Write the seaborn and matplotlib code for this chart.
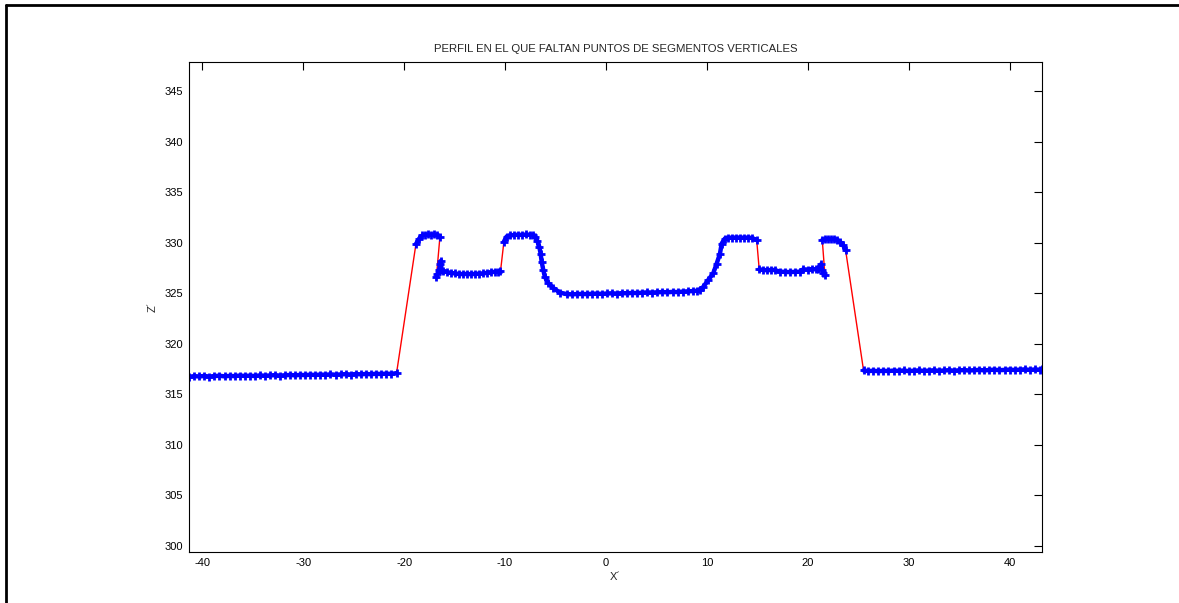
import matplotlib
matplotlib.use("Agg")
import matplotlib.pyplot as plt
from matplotlib.lines import Line2D
import seaborn as sns
import pandas as pd

# ---- data ----
x1 = [-41.3, -40.8, -40.3, -39.8, -39.3, -38.8, -38.3, -37.8, -37.3, -36.8,
      -36.3, -35.8, -35.3, -34.8, -34.3, -33.8, -33.3, -32.8, -32.3, -31.8,
      -31.3, -30.8, -30.3, -29.8, -29.3, -28.8, -28.3, -27.8, -27.3, -26.8,
      -26.3, -25.8, -25.3, -24.8, -24.3, -23.8, -23.3, -22.8, -22.3, -21.8,
      -21.3, -20.75]
z1 = [316.72, 316.78, 316.75, 316.80, 316.74, 316.79, 316.82, 316.76, 316.81, 316.78,
      316.84, 316.80, 316.83, 316.79, 316.86, 316.82, 316.85, 316.88, 316.83, 316.87,
      316.90, 316.86, 316.91, 316.88, 316.93, 316.89, 316.94, 316.91, 316.96, 316.92,
      316.95, 316.98, 316.94, 316.99, 316.96, 317.00, 316.97, 317.02, 316.99, 317.03,
      317.00, 317.08]

x2 = [-18.83, -18.5, -18.2, -17.9, -17.6, -17.3, -17.0, -16.7, -16.45]
z2 = [329.85, 330.4, 330.7, 330.78, 330.8, 330.78, 330.8, 330.75, 330.6]

x3 = [-16.8, -16.7, -16.55, -16.4, -16.35, -16.3, -16.1, -15.8, -15.4, -15.0,
      -14.6, -14.2, -13.8, -13.4, -13.0, -12.6, -12.2, -11.8, -11.4, -11.0,
      -10.7, -10.45]
z3 = [326.6, 326.9, 327.3, 327.9, 328.2, 327.3, 327.2, 327.1, 327.0, 326.95,
      326.9, 326.88, 326.9, 326.87, 326.9, 326.92, 326.95, 327.0, 327.08, 327.1,
      327.12, 327.15]

x4 = [-10.11, -9.84, -9.5, -9.1, -8.7, -8.3, -7.9, -7.5, -7.2, -7.0,
      -6.81, -6.61, -6.47, -6.37, -6.21, -6.05, -5.72, -5.22, -4.56, -3.89,
      -3.4, -2.9, -2.4, -1.9, -1.4, -0.9, -0.4, 0.1, 0.6, 1.1,
      1.6, 2.1, 2.6, 3.1, 3.6, 4.1, 4.6, 5.1, 5.6, 6.1,
      6.6, 7.1, 7.6, 8.1, 8.6, 8.99, 9.3, 9.64, 10.14, 10.63,
      10.97, 11.3, 11.47, 11.79, 12.1, 12.5, 12.9, 13.3, 13.7, 14.1,
      14.5, 14.94]
z4 = [330.1, 330.6, 330.7, 330.75, 330.78, 330.75, 330.8, 330.77, 330.75, 330.6,
      330.2, 329.6, 328.9, 328.1, 327.3, 326.6, 326.0, 325.5, 325.05, 324.9,
      324.88, 324.9, 324.92, 324.9, 324.93, 324.95, 324.92, 324.96, 324.98, 324.95,
      325.0, 324.98, 325.02, 325.0, 325.04, 325.07, 325.05, 325.08, 325.1, 325.08,
      325.12, 325.1, 325.15, 325.17, 325.2, 325.23, 325.35, 325.6, 326.3, 326.95,
      327.9, 328.9, 329.9, 330.4, 330.45, 330.5, 330.48, 330.5, 330.47, 330.5,
      330.45, 330.25]

x5 = [15.19, 15.6, 16.0, 16.4, 16.75, 17.24, 17.7, 18.2, 18.7, 19.23,
      19.55, 20.0, 20.4, 20.8, 21.04, 21.31, 21.45, 21.55, 21.7]
z5 = [327.35, 327.3, 327.25, 327.3, 327.28, 327.12, 327.1, 327.08, 327.1, 327.12,
      327.35, 327.33, 327.38, 327.35, 327.4, 327.85, 327.3, 327.0, 326.8]

x6 = [21.44, 21.7, 22.0, 22.3, 22.6, 22.86, 23.2, 23.5, 23.75]
z6 = [330.25, 330.33, 330.35, 330.32, 330.34, 330.3, 330.08, 329.76, 329.26]

x7 = [25.53, 26.0, 26.5, 27.0, 27.5, 28.0, 28.5, 29.0, 29.5, 30.0,
      30.5, 31.0, 31.5, 32.0, 32.5, 33.0, 33.5, 34.0, 34.5, 35.0,
      35.5, 36.0, 36.5, 37.0, 37.5, 38.0, 38.5, 39.0, 39.5, 40.0,
      40.5, 41.0, 41.5, 42.0, 42.5, 43.0, 43.2]
z7 = [317.35, 317.28, 317.32, 317.27, 317.31, 317.29, 317.33, 317.30, 317.34, 317.28,
      317.32, 317.35, 317.30, 317.33, 317.36, 317.31, 317.34, 317.37, 317.32, 317.36,
      317.38, 317.34, 317.37, 317.40, 317.35, 317.39, 317.42, 317.37, 317.40, 317.43,
      317.39, 317.42, 317.45, 317.40, 317.44, 317.42, 317.45]

# gap connectors (red): pairs of endpoints
gap_x = [[-20.75, -18.83], [-16.45, -16.8], [-10.45, -10.11], [14.94, 15.19],
         [21.7, 21.44], [23.75, 25.53]]
gap_z = [[317.08, 329.85], [330.6, 326.6], [327.15, 330.1], [330.25, 327.35],
         [326.8, 330.25], [329.26, 317.35]]

title = "PERFIL EN EL QUE FALTAN PUNTOS DE SEGMENTOS VERTICALES"
xticks = [-40, -30, -20, -10, 0, 10, 20, 30, 40]
yticks = [300, 305, 310, 315, 320, 325, 330, 335, 340, 345]

# ---- build tables ----
segs_x = [x1, x2, x3, x4, x5, x6, x7]
segs_z = [z1, z2, z3, z4, z5, z6, z7]
rows = []
for i, (xs, zs) in enumerate(zip(segs_x, segs_z)):
    assert len(xs) == len(zs), i
    for k, (a, b) in enumerate(zip(xs, zs)):
        rows.append({"seg": i, "order": k, "x": a, "z": b})
blue = pd.DataFrame(rows)

grows = []
for i, (xs, zs) in enumerate(zip(gap_x, gap_z)):
    for k, (a, b) in enumerate(zip(xs, zs)):
        grows.append({"seg": i, "order": k, "x": a, "z": b})
red = pd.DataFrame(grows)

# ---- plot ----
sns.set_style("white")
plt.rcParams["font.family"] = ["Liberation Sans", "DejaVu Sans"]
plt.rcParams["axes.unicode_minus"] = False
fig = plt.figure(figsize=(11.79, 6.03), dpi=100)
ax = fig.add_axes([0.1603, 0.0841, 0.8835 - 0.1603, 0.8972 - 0.0841])

sns.lineplot(data=red, x="x", y="z", units="seg", estimator=None, sort=False,
             color="red", linewidth=1.0, ax=ax)
sns.lineplot(data=blue, x="x", y="z", units="seg", estimator=None, sort=False,
             color="blue", linewidth=3.2, marker="+", markersize=6,
             markeredgewidth=2.0, markeredgecolor="blue", ax=ax)

ax.set_xlim(-41.32, 43.18)
ax.set_ylim(299.35, 347.87)
ax.set_xticks(xticks)
ax.set_yticks(yticks)
ax.tick_params(direction="in", length=6, width=0.8, top=True, right=True,
               labelsize=8, colors="black", pad=4)
for s in ax.spines.values():
    s.set_visible(True)
    s.set_color("black")
    s.set_linewidth(0.8)
ax.set_title(title, fontsize=8.2, pad=7)
ax.set_xlabel("X´", fontsize=8, labelpad=3)
ax.set_ylabel("Z´", fontsize=8, labelpad=5)

# outer frame (left and top edges)
fig.add_artist(Line2D([0.005, 0.005], [0.0, 0.991], transform=fig.transFigure,
                      color="black", linewidth=2.0))
fig.add_artist(Line2D([0.005, 1.0], [0.991, 0.991], transform=fig.transFigure,
                      color="black", linewidth=2.0))

fig.savefig("out.png", dpi=100, facecolor="white")
